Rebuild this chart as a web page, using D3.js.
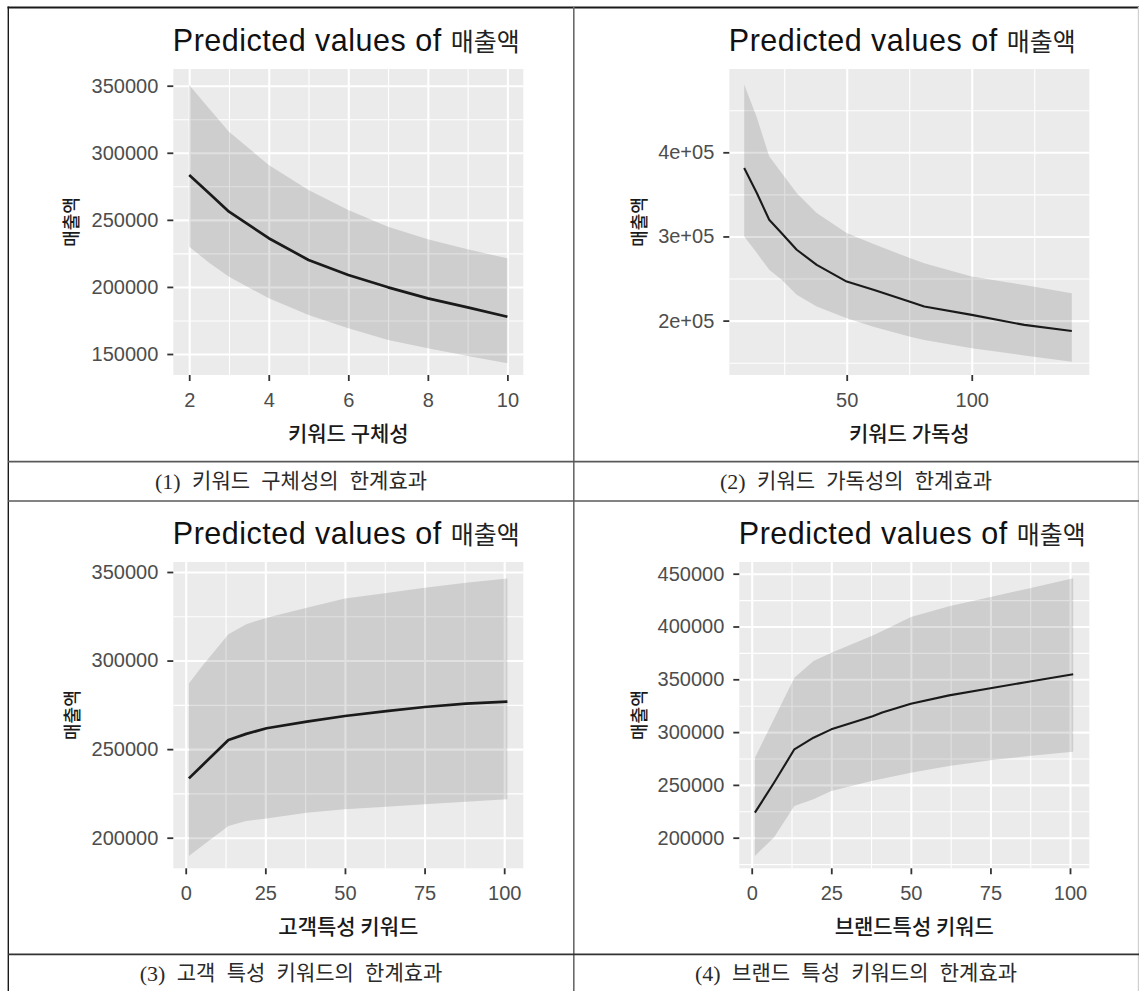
<!DOCTYPE html>
<html><head><meta charset="utf-8">
<script src="https://cdnjs.cloudflare.com/ajax/libs/d3/7.8.5/d3.min.js"></script>
<style>body{margin:0;background:#fff} svg{display:block}</style>
</head><body>
<svg id="c" width="1139" height="991"></svg>
<script>
// ---------------- data ----------------
const titleMain = "Predicted values of ";
const titleVar = "매출액";
const yTitle = "매출액";
const xTitles = ["키워드 구체성", "키워드 가독성", "고객특성 키워드", "브랜드특성 키워드"];
const captionNums = ["(1)", "(2)", "(3)", "(4)"];
const captions = ["키워드 구체성의 한계효과", "키워드 가독성의 한계효과",
                  "고객 특성 키워드의 한계효과", "브랜드 특성 키워드의 한계효과"];

// Panel 1: 키워드 구체성
const p1X   = [2, 2.5, 3, 4, 5, 6, 7, 8, 9, 10];
const p1Fit = [283400, 269800, 256100, 236300, 220100, 208900, 199700, 191500, 184800, 177800];
const p1Hi  = [350500, 333000, 315700, 290900, 272300, 257300, 244900, 235500, 228000, 221300];
const p1Lo  = [230000, 218000, 207600, 191500, 179100, 169200, 160400, 154300, 148500, 143100];
const p1XDomain = [1.6, 10.4];
const p1YDomain = [134350, 362450];
const p1XTicks = [2, 4, 6, 8, 10];
const p1XMinor = [3, 5, 7, 9];
const p1YTicks = [150000, 200000, 250000, 300000, 350000];
const p1YMinor = [175000, 225000, 275000, 325000];

// Panel 2: 키워드 가독성
const p2X   = [9, 14, 19, 24, 30, 38, 50, 61, 75, 81, 100, 121, 140];
const p2Fit = [381400, 352000, 319900, 303900, 284200, 266300, 246400, 236500, 222600, 216700, 206800, 194900, 187700];
const p2Hi  = [480600, 442000, 395200, 375500, 351700, 327900, 304000, 290600, 274600, 268300, 252400, 242200, 232600];
const p2Lo  = [300000, 280500, 260400, 248500, 230600, 216700, 202900, 192400, 181200, 177000, 167100, 158600, 151200];
const p2XDomain = [3.05, 147];
const p2YDomain = [135360, 499000];
const p2XTicks = [50, 100];
const p2XMinor = [25, 75, 125];
const p2YTicks = [200000, 300000, 400000];
const p2YMinor = [150000, 250000, 350000, 450000];

// Panel 3: 고객특성 키워드
const p3X   = [1, 5, 13.4, 19, 25.4, 38, 50, 63, 75, 88, 101];
const p3Fit = [233500, 240500, 255200, 258600, 261800, 265500, 268700, 271500, 273800, 275700, 276800];
const p3Hi  = [287000, 296500, 314800, 320500, 324200, 329800, 335100, 338200, 341100, 344000, 346400];
const p3Lo  = [189700, 195200, 206600, 209400, 210900, 214100, 216000, 217500, 218900, 220300, 221700];
const p3XDomain = [-3.9, 106];
const p3YDomain = [182727, 355645];
const p3XTicks = [0, 25, 50, 75, 100];
const p3XMinor = [12.5, 37.5, 62.5, 87.5];
const p3YTicks = [200000, 250000, 300000, 350000];
const p3YMinor = [225000, 275000, 325000];

// Panel 4: 브랜드특성 키워드
const p4X   = [1, 7, 13.4, 19.4, 25, 38, 41, 50, 62, 75, 87, 101];
const p4Fit = [223700, 252000, 283700, 294700, 302600, 315000, 318500, 326900, 334800, 341500, 347700, 354700];
const p4Hi  = [275800, 312400, 351500, 367300, 375200, 391400, 395800, 409000, 419200, 427900, 436000, 445600];
const p4Lo  = [182700, 200300, 230000, 236400, 244200, 253900, 255800, 261500, 267800, 273300, 277300, 281400];
const p4XDomain = [-3.9, 106.06];
const p4YDomain = [171020, 461080];
const p4XTicks = [0, 25, 50, 75, 100];
const p4XMinor = [12.5, 37.5, 62.5, 87.5];
const p4YTicks = [200000, 250000, 300000, 350000, 400000, 450000];
const p4YMinor = [175000, 225000, 275000, 325000, 375000, 425000];

// ---------------- layout ----------------
const layouts = [
  {left:173.3, right:523.3, top:69,  bottom:375,   yTitleX:70,   lineW:2.7},
  {left:729.3, right:1089.3, top:69, bottom:375,   yTitleX:637.5, lineW:2.1},
  {left:173.3, right:523.3, top:562, bottom:868.3, yTitleX:70.8, lineW:2.7},
  {left:739.3, right:1089.3, top:562, bottom:868.3, yTitleX:637.5, lineW:2.1}
];
const panels = [
  {x:p1X, fit:p1Fit, hi:p1Hi, lo:p1Lo, xd:p1XDomain, yd:p1YDomain, xt:p1XTicks, xm:p1XMinor, yt:p1YTicks, ym:p1YMinor, fmt:d=>String(d)},
  {x:p2X, fit:p2Fit, hi:p2Hi, lo:p2Lo, xd:p2XDomain, yd:p2YDomain, xt:p2XTicks, xm:p2XMinor, yt:p2YTicks, ym:p2YMinor, fmt:d=>(d/1e5)+"e+05"},
  {x:p3X, fit:p3Fit, hi:p3Hi, lo:p3Lo, xd:p3XDomain, yd:p3YDomain, xt:p3XTicks, xm:p3XMinor, yt:p3YTicks, ym:p3YMinor, fmt:d=>String(d)},
  {x:p4X, fit:p4Fit, hi:p4Hi, lo:p4Lo, xd:p4XDomain, yd:p4YDomain, xt:p4XTicks, xm:p4XMinor, yt:p4YTicks, ym:p4YMinor, fmt:d=>String(d)}
];

const LATIN = "'Liberation Sans', Arial, 'Noto Sans CJK KR', sans-serif";
const KOR = "'Noto Sans CJK KR', 'Liberation Sans', sans-serif";
const svg = d3.select("#c");

// ---------------- table frame ----------------
const frame = svg.append("g");
function hline(y, x1, x2, c, w){ frame.append("line").attr("x1",x1).attr("x2",x2).attr("y1",y).attr("y2",y).attr("stroke",c).attr("stroke-width",w); }
function vline(x, y1, y2, c, w){ frame.append("line").attr("x1",x).attr("x2",x).attr("y1",y1).attr("y2",y2).attr("stroke",c).attr("stroke-width",w); }
hline(7.5, 7.5, 1139, "#1a1a1a", 1.8);
vline(8.3, 6.6, 991, "#1a1a1a", 1.4);
vline(573.8, 7, 991, "#6a6a6a", 1.6);
vline(1138.4, 7, 991, "#d0d0d0", 1.2);
hline(461.6, 8, 1139, "#5a5a5a", 1.6);
hline(501, 8, 1139, "#5a5a5a", 1.6);
hline(954.3, 8, 1139, "#333", 1.8);

// captions
const capCenters = [[291, 481], [856, 481], [291, 972.5], [856, 972.5]];
captions.forEach((t, i) => {
  const c = svg.append("text").attr("x", capCenters[i][0]).attr("y", capCenters[i][1])
    .attr("text-anchor","middle").attr("dominant-baseline","central")
    .attr("font-family","'Liberation Serif','Noto Sans CJK KR',serif")
    .attr("font-size", 21).attr("word-spacing", 6).attr("fill","#2a2a2a");
  c.append("tspan").attr("font-size", 22).text(captionNums[i] + " ");
  c.append("tspan").text(t);
});

// ---------------- panels ----------------
panels.forEach((D, i) => {
  const L = layouts[i];
  const g = svg.append("g");
  const x = d3.scaleLinear().domain(D.xd).range([L.left, L.right]);
  const y = d3.scaleLinear().domain(D.yd).range([L.bottom, L.top]);
  const w = L.right - L.left, h = L.bottom - L.top;

  g.append("rect").attr("x",L.left).attr("y",L.top).attr("width",w).attr("height",h).attr("fill","#ebebeb");

  // grid lines via axes
  function grid(axis, vals, size, sw, tr){
    const a = g.append("g").attr("transform", tr)
      .call(axis.tickValues(vals).tickSize(size).tickFormat(""));
    a.select(".domain").remove();
    a.selectAll("line").attr("stroke","#fff").attr("stroke-width", sw);
  }
  grid(d3.axisBottom(x), D.xm, -h, 1.1, `translate(0,${L.bottom})`);
  grid(d3.axisLeft(y), D.ym, -w, 1.1, `translate(${L.left},0)`);
  grid(d3.axisBottom(x), D.xt, -h, 2.1, `translate(0,${L.bottom})`);
  grid(d3.axisLeft(y), D.yt, -w, 2.1, `translate(${L.left},0)`);

  const pts = D.x.map((v, k) => ({x:v, fit:D.fit[k], hi:D.hi[k], lo:D.lo[k]}));
  g.append("path").datum(pts)
    .attr("d", d3.area().x(d=>x(d.x)).y0(d=>y(d.lo)).y1(d=>y(d.hi)))
    .attr("fill","#000").attr("fill-opacity",0.12);
  g.append("path").datum(pts)
    .attr("d", d3.line().x(d=>x(d.x)).y(d=>y(d.fit)))
    .attr("fill","none").attr("stroke","#1a1a1a").attr("stroke-width",L.lineW).attr("stroke-linejoin","round");

  // axes
  const ax = g.append("g").attr("transform",`translate(0,${L.bottom})`)
    .call(d3.axisBottom(x).tickValues(D.xt).tickSizeInner(6).tickSizeOuter(0).tickPadding(11.5).tickFormat(d=>String(d)));
  const ay = g.append("g").attr("transform",`translate(${L.left},0)`)
    .call(d3.axisLeft(y).tickValues(D.yt).tickSizeInner(6).tickSizeOuter(0).tickPadding(9).tickFormat(D.fmt));
  [ax, ay].forEach(a => {
    a.select(".domain").remove();
    a.selectAll("line").attr("stroke","#333").attr("stroke-width",1.8);
    a.selectAll("text").attr("font-family",LATIN).attr("font-size",20).attr("fill","#4d4d4d");
  });

  // title
  const t = svg.append("text").attr("x", L.left - 0.5).attr("y", L.top - 18)
    .attr("font-family", LATIN).attr("font-size", 30.5).attr("fill","#111");
  t.append("tspan").attr("letter-spacing", 0.5).text(titleMain);
  t.append("tspan").attr("font-family", KOR).attr("font-size", 25).attr("fill","#222").text(titleVar);

  // x title
  svg.append("text").attr("x", (L.left + L.right)/2).attr("y", L.bottom + 57)
    .attr("text-anchor","middle").attr("dominant-baseline","central")
    .attr("font-family", KOR).attr("font-size", 21).attr("font-weight", 500).attr("fill","#1a1a1a").text(xTitles[i]);

  // y title
  svg.append("text").attr("transform", `translate(${L.yTitleX},${(L.top+L.bottom)/2}) rotate(-90)`)
    .attr("text-anchor","middle").attr("dominant-baseline","central")
    .attr("font-family", KOR).attr("font-size", 18).attr("font-weight", 500).attr("fill","#1a1a1a").text(yTitle);
});
</script>
</body></html>
